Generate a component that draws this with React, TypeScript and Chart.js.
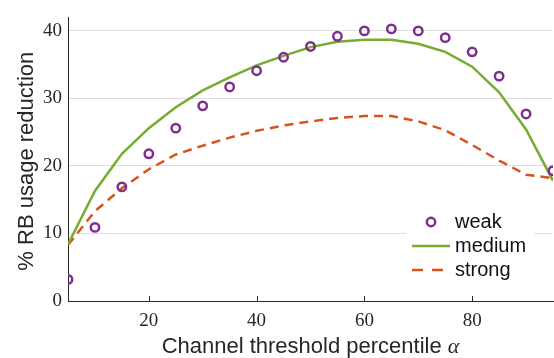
import React, { useEffect, useRef } from "react";
import { Chart, registerables } from "chart.js";
Chart.register(...registerables);

const alpha = [5, 10, 15, 20, 25, 30, 35, 40, 45, 50, 55, 60, 65, 70, 75, 80, 85, 90, 95];
const weak = [3.2, 10.9, 16.9, 21.8, 25.6, 28.9, 31.7, 34.1, 36.1, 37.7, 39.2, 40.0, 40.3, 40.0, 39.0, 36.9, 33.3, 27.7, 19.3];
const medium = [8.4, 16.3, 21.8, 25.6, 28.7, 31.2, 33.1, 34.9, 36.3, 37.6, 38.4, 38.7, 38.7, 38.1, 36.9, 34.7, 30.9, 25.4, 17.8];
const strong = [8.3, 13.3, 16.7, 19.5, 21.7, 23.0, 24.2, 25.2, 26.0, 26.6, 27.1, 27.4, 27.4, 26.6, 25.3, 23.1, 20.8, 18.7, 18.2];
const xTicks = [20, 40, 60, 80];
const yTicks = [0, 10, 20, 30, 40];
const seriesNames = ["weak", "medium", "strong"];
const yTitle = "% RB usage reduction";
const xTitleText = "Channel threshold percentile ";
const xTitleSymbol = "\u03B1";

const PURPLE = "#7E2F8E";
const GREEN = "#77AC30";
const ORANGE = "#D95319";
const AXIS = "#262626";

const toPts = (ys: number[]) => alpha.map((x, i) => ({ x, y: ys[i] }));

const decorPlugin = {
  id: "decor",
  afterDraw(chart: any) {
    const ctx = chart.ctx as CanvasRenderingContext2D;
    const xs = chart.scales.x;
    const area = chart.chartArea;
    ctx.save();
    // inward x ticks
    ctx.strokeStyle = AXIS;
    ctx.lineWidth = 1;
    for (const v of xTicks) {
      const px = Math.round(xs.getPixelForValue(v)) + 0.5;
      ctx.beginPath();
      ctx.moveTo(px, area.bottom);
      ctx.lineTo(px, area.bottom - 5);
      ctx.stroke();
    }
    // legend box
    ctx.fillStyle = "#ffffff";
    ctx.fillRect(406, 206, 128, 78);
    const lx0 = 412, lx1 = 450, tx = 455;
    const rows = [222, 246, 270];
    // weak
    ctx.strokeStyle = PURPLE;
    ctx.lineWidth = 2.5;
    ctx.beginPath();
    ctx.arc(431, rows[0], 4.2, 0, Math.PI * 2);
    ctx.stroke();
    // medium
    ctx.strokeStyle = GREEN;
    ctx.lineWidth = 2.5;
    ctx.beginPath();
    ctx.moveTo(lx0, rows[1]);
    ctx.lineTo(lx1, rows[1]);
    ctx.stroke();
    // strong
    ctx.strokeStyle = ORANGE;
    ctx.setLineDash([11, 9]);
    ctx.beginPath();
    ctx.moveTo(lx0, rows[2]);
    ctx.lineTo(lx1, rows[2]);
    ctx.stroke();
    ctx.setLineDash([]);
    ctx.fillStyle = "#111111";
    ctx.font = "20px 'Liberation Sans'";
    ctx.textBaseline = "middle";
    ctx.textAlign = "left";
    seriesNames.forEach((n, i) => ctx.fillText(n, tx, rows[i]));

    // y title
    ctx.save();
    ctx.translate(33, (area.top + area.bottom) / 2 + 2);
    ctx.rotate(-Math.PI / 2);
    ctx.font = "22px 'Liberation Sans'";
    ctx.textAlign = "center";
    ctx.textBaseline = "alphabetic";
    ctx.fillStyle = "#262626";
    ctx.fillText(yTitle, 0, 0);
    ctx.restore();

    // x title
    ctx.font = "22px 'Liberation Sans'";
    const w1 = ctx.measureText(xTitleText).width;
    ctx.font = "italic 22px 'Liberation Serif'";
    const w2 = ctx.measureText(xTitleSymbol).width;
    const cx = (area.left + area.right) / 2;
    const sx = cx - (w1 + w2) / 2;
    ctx.textAlign = "left";
    ctx.textBaseline = "alphabetic";
    ctx.fillStyle = "#262626";
    ctx.font = "22px 'Liberation Sans'";
    ctx.fillText(xTitleText, sx, 353);
    ctx.font = "italic 22px 'Liberation Serif'";
    ctx.fillText(xTitleSymbol, sx + w1, 353);
    ctx.restore();
  },
};

export default function App() {
  const ref = useRef<HTMLCanvasElement | null>(null);
  useEffect(() => {
    document.body.style.margin = "0";
    const chart = new Chart(ref.current as HTMLCanvasElement, {
      type: "line",
      data: {
        datasets: [
          {
            label: seriesNames[0],
            data: toPts(weak),
            showLine: false,
            pointRadius: 4.2,
            pointBorderWidth: 2.5,
            pointBorderColor: PURPLE,
            pointBackgroundColor: "rgba(0,0,0,0)",
            borderColor: PURPLE,
          },
          {
            label: seriesNames[1],
            data: toPts(medium),
            borderColor: GREEN,
            borderWidth: 2.5,
            pointRadius: 0,
            tension: 0,
            fill: false,
          },
          {
            label: seriesNames[2],
            data: toPts(strong),
            borderColor: ORANGE,
            borderWidth: 2.5,
            borderDash: [9, 6],
            pointRadius: 0,
            tension: 0,
            fill: false,
          },
        ],
      },
      options: {
        animation: false,
        responsive: false,
        layout: { autoPadding: false, padding: { top: 7, right: 1, left: 0, bottom: 0 } },
        plugins: { legend: { display: false }, tooltip: { enabled: false } },
        scales: {
          x: {
            type: "linear",
            min: 5,
            max: 95,
            afterBuildTicks: (s: any) => {
              s.ticks = xTicks.map((v) => ({ value: v }));
            },
            afterFit: (s: any) => {
              s.height = 57;
            },
            grid: { display: false, drawTicks: false },
            border: { display: true, color: AXIS, width: 1 },
            ticks: {
              padding: 9,
              color: AXIS,
              font: { family: "'Liberation Serif'", size: 19 },
              maxRotation: 0,
            },
          },
          y: {
            type: "linear",
            min: 0,
            max: 42,
            afterBuildTicks: (s: any) => {
              s.ticks = yTicks.map((v) => ({ value: v }));
            },
            afterFit: (s: any) => {
              s.width = 68;
            },
            grid: {
              drawTicks: false,
              color: (c: any) => (c.tick && c.tick.value === 0 ? "rgba(0,0,0,0)" : "#dedede"),
              lineWidth: 1,
            },
            border: { display: true, color: AXIS, width: 1 },
            ticks: {
              padding: 6,
              color: AXIS,
              font: { family: "'Liberation Serif'", size: 19 },
            },
          },
        },
      },
      plugins: [decorPlugin],
    } as any);
    return () => chart.destroy();
  }, []);
  return (
    <div style={{ width: 554, height: 358 }}>
      <canvas ref={ref} width={554} height={358} style={{ display: "block" }} />
    </div>
  );
}
